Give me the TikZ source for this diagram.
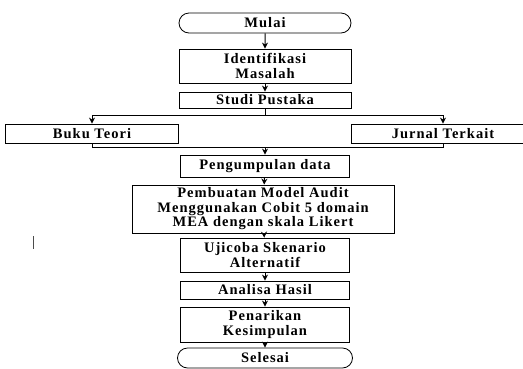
\documentclass[tikz,border=0pt]{standalone}
\usepackage{fontspec}
\setmainfont[LetterSpace=7]{Liberation Serif}
\usetikzlibrary{positioning, calc, arrows.meta, shapes.misc}

\begin{document}
\begin{tikzpicture}[
  x=1pt, y=-1pt,
  proc/.style={draw, line width=0.8pt, minimum width=172pt, inner sep=0pt, align=center, font=\bfseries\fontsize{14.5}{14.5}\selectfont},
  term/.style={proc, rounded rectangle},
  flow/.style={-{Stealth[length=6pt,width=6pt]}, line width=1pt},
  >=Stealth
]
  \useasboundingbox (0,0) rectangle (523,368);

  % Main column
  \node[term, minimum height=20pt] (mulai) at (265,23) {Mulai};
  \node[proc, minimum height=34pt] (ident) at (265,66) {Identifikasi\\Masalah};
  \node[proc, minimum height=16pt] (studi) at (265,100) {Studi Pustaka};

  % Sources
  \node[proc, minimum width=173pt, minimum height=19pt] (buku) at (92,133.5) {Buku Teori};
  \node[proc, minimum width=184pt, minimum height=19pt] (jurnal) at (443,133.5) {Jurnal Terkait};

  % Process steps
  \node[proc, minimum width=169pt, minimum height=22pt] (peng) at (265,166) {Pengumpulan data};
  \node[proc, minimum width=262pt, minimum height=48pt] (pemb) at (263,209) {Pembuatan Model Audit\\Menggunakan Cobit 5 domain\\MEA dengan skala Likert};
  \node[proc, minimum width=169pt, minimum height=34pt] (uji) at (265,255) {Ujicoba Skenario\\Alternatif};
  \node[proc, minimum width=169pt, minimum height=18pt] (analisa) at (265,290) {Analisa Hasil};
  \node[proc, minimum width=169pt, minimum height=35pt] (tarik) at (265,324.5) {Penarikan\\Kesimpulan};
  \node[term, minimum width=175pt, minimum height=20pt] (selesai) at (265,358) {Selesai};

  % Branch points
  \coordinate (split) at (265,115);
  \coordinate (merge) at (265,147);

  % Arrows
  \draw[flow] (mulai) -- (ident);
  \draw[flow] (ident) -- (studi);
  \draw[line width=1pt] (studi) -- (split);
  \draw[flow] (split) -| (buku.north);
  \draw[flow] (split) -| (jurnal.north);
  \draw[line width=1pt] (buku.south) |- (merge);
  \draw[line width=1pt] (jurnal.south) |- (merge);
  \draw[flow] (merge) -- (peng);
  \draw[flow] (peng) -- (pemb);
  \draw[flow] (pemb) -- (uji);
  \draw[flow] (uji) -- (analisa);
  \draw[flow] (analisa) -- (tarik);
  \draw[flow] (tarik) -- (selesai);

  % stray mark
  \draw[line width=0.7pt, gray!60!black] (33,236) -- (33,249);
\end{tikzpicture}
\end{document}
